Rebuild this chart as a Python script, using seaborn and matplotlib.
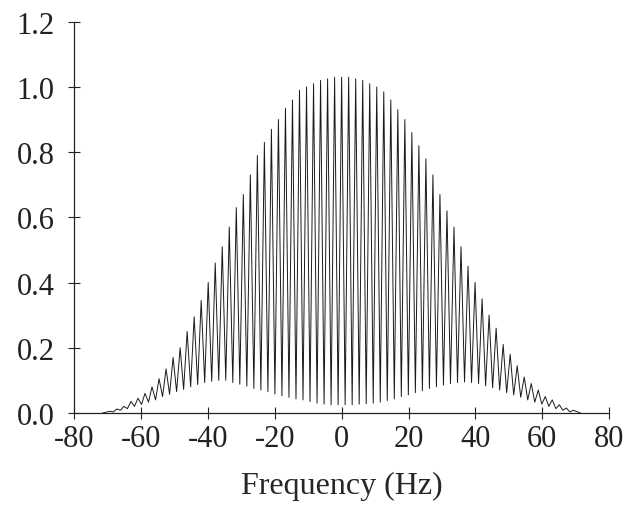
import numpy as np
import pandas as pd
import matplotlib
matplotlib.use("Agg")
import matplotlib.pyplot as plt
import seaborn as sns

# peak (maximum) heights, one per cycle, read left to right (-69.3 .. 69.3 Hz, step 2.1 Hz)
peak_index = np.arange(-33, 34)
peak_heights = [
    0.005, 0.012, 0.02, 0.035, 0.045, 0.06, 0.08, 0.105, 0.135, 0.17,
    0.20, 0.25, 0.295, 0.345, 0.40, 0.46, 0.51, 0.57, 0.63, 0.67,
    0.73, 0.79, 0.83, 0.87, 0.90, 0.935, 0.96, 0.99, 1.0, 1.01,
    1.02, 1.025, 1.03, 1.03, 1.03, 1.025, 1.02, 1.01, 1.0, 0.985,
    0.96, 0.93, 0.90, 0.86, 0.82, 0.78, 0.73, 0.67, 0.62, 0.57,
    0.51, 0.45, 0.40, 0.35, 0.30, 0.26, 0.21, 0.18, 0.145, 0.11,
    0.09, 0.07, 0.05, 0.04, 0.025, 0.015, 0.008,
]
# trough (minimum) heights, between the peaks (-68.25 .. 68.25 Hz)
trough_index = np.arange(-33, 33)
trough_heights = [
    0.003, 0.008, 0.013, 0.02, 0.026, 0.033, 0.04, 0.05, 0.057, 0.065,
    0.072, 0.08, 0.087, 0.093, 0.097, 0.10, 0.10, 0.093, 0.088, 0.082,
    0.075, 0.07, 0.065, 0.058, 0.053, 0.048, 0.043, 0.04, 0.035, 0.03,
    0.027, 0.025, 0.025, 0.025, 0.025, 0.027, 0.028, 0.03, 0.033, 0.038,
    0.043, 0.05, 0.055, 0.062, 0.068, 0.075, 0.08, 0.085, 0.09, 0.093,
    0.095, 0.093, 0.09, 0.083, 0.077, 0.07, 0.062, 0.055, 0.048, 0.04,
    0.033, 0.027, 0.02, 0.013, 0.008, 0.003,
]
cycle_hz = 2.1
end_freqs = [-71.4, 71.4]
end_heights = [0.0, 0.0]

x_ticks = [-80, -60, -40, -20, 0, 20, 40, 60, 80]
y_ticks = [0.0, 0.2, 0.4, 0.6, 0.8, 1.0, 1.2]

df = pd.DataFrame({
    "Frequency (Hz)": np.concatenate([
        peak_index * cycle_hz,
        trough_index * cycle_hz + cycle_hz / 2,
        end_freqs,
    ]),
    "Amplitude": np.concatenate([peak_heights, trough_heights, end_heights]),
}).sort_values("Frequency (Hz)")

sns.set_style("ticks")
plt.rcParams["font.family"] = ["Liberation Serif", "DejaVu Serif"]

fig = plt.figure(figsize=(6.28, 5.06), dpi=100)
ax = fig.add_axes([0.118, 0.182, 0.852, 0.773])

sns.lineplot(
    data=df, x="Frequency (Hz)", y="Amplitude", sort=False,
    estimator=None, color="#1a1a1a", linewidth=0.7, ax=ax,
)

ax.set_xlim(-80, 80)
ax.set_ylim(0, 1.2)
ax.set_xticks(x_ticks)
ax.set_xticklabels([str(t) for t in x_ticks])
ax.set_yticks(y_ticks)
ax.set_yticklabels([f"{t:.1f}" for t in y_ticks])
ax.set_xlabel("Frequency (Hz)", fontsize=23, labelpad=13)
ax.set_ylabel("")

sns.despine(ax=ax)
for side in ["left", "bottom"]:
    ax.spines[side].set_linewidth(0.9)
    ax.spines[side].set_color("#222222")
ax.tick_params(axis="both", direction="inout", length=8, width=0.8,
               colors="#222222", labelsize=22, labelcolor="#222222")
ax.tick_params(axis="y", pad=10)
ax.tick_params(axis="x", pad=4)

fig.savefig("out.png", dpi=100)
